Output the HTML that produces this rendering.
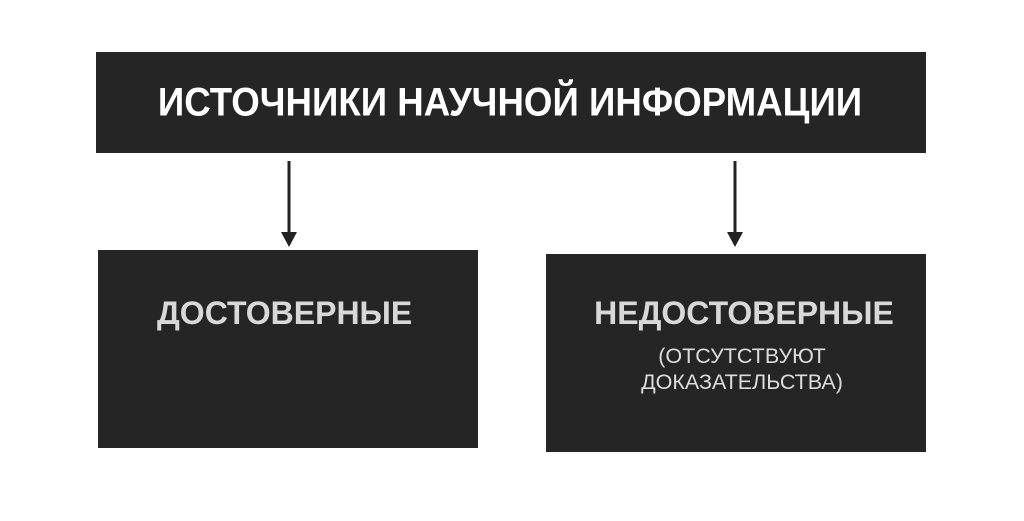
<!DOCTYPE html>
<html><head><meta charset="utf-8"><style>
body{margin:0;width:1024px;height:521px;background:#fff;position:relative;overflow:hidden;font-family:"Liberation Sans",sans-serif}
.b{position:absolute;background:#252525}
.t{position:absolute;white-space:nowrap;font-weight:bold}
</style></head><body>
<div class="b" style="left:96px;top:52px;width:830px;height:101px"></div>
<div class="t" style="left:0;width:1020px;text-align:center;top:81px;font-size:38px;color:#fff;transform:scaleX(0.965) scaleY(1.05);transform-origin:510px 0">ИСТОЧНИКИ НАУЧНОЙ ИНФОРМАЦИИ</div>
<svg style="position:absolute;left:0;top:0" width="1024" height="521">
<line x1="289" y1="161" x2="289" y2="236" stroke="#222" stroke-width="3"/>
<polygon points="281,232 297,232 289,247" fill="#222"/>
<line x1="735" y1="161" x2="735" y2="236" stroke="#222" stroke-width="3"/>
<polygon points="727,232 743,232 735,247" fill="#222"/>
</svg>
<div class="b" style="left:98px;top:250px;width:380px;height:198px"></div>
<div class="b" style="left:546px;top:254px;width:380px;height:198px"></div>
<div class="t" style="left:157px;top:295px;font-size:32px;color:#d8d8d8">ДОСТОВЕРНЫЕ</div>
<div class="t" style="left:549px;width:390px;text-align:center;top:295px;font-size:32px;color:#d8d8d8">НЕДОСТОВЕРНЫЕ</div>
<div class="t" style="left:547px;width:390px;text-align:center;top:343px;font-size:21.5px;line-height:26px;font-weight:normal;color:#ddd">(ОТСУТСТВУЮТ<br>ДОКАЗАТЕЛЬСТВА)</div>
</body></html>
